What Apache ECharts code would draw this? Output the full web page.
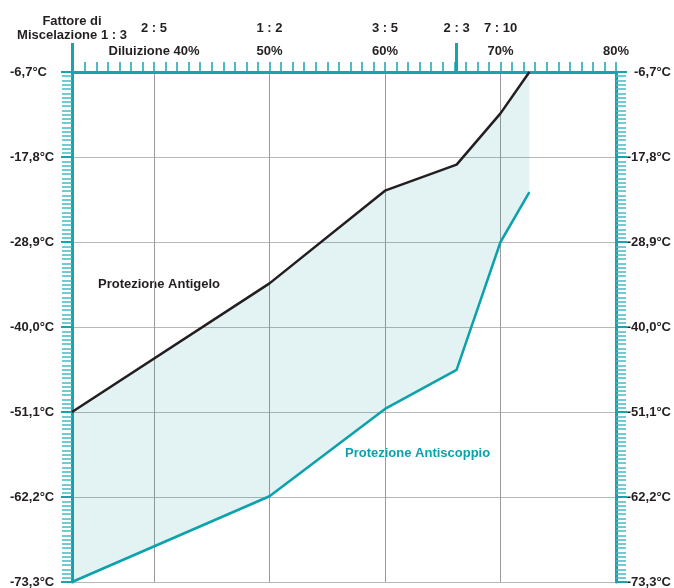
<!DOCTYPE html>
<html>
<head>
<meta charset="utf-8">
<script src="https://cdn.jsdelivr.net/npm/echarts@6/dist/echarts.min.js"></script>
<style>
html,body{margin:0;padding:0;background:#fff;}
#chart{width:674px;height:588px;}
</style>
</head>
<body>
<div id="chart"></div>
<script>
// Dilution (%) where each line bends
const dilution = [32.9, 50, 60, 66.2, 70, 72.5];
// Freeze protection (°C) - black line
const antigelo = [-51.1, -34.3, -22.2, -18.8, -12.1, -6.7];
// Burst protection (°C) - teal line
const antiscoppio = [-73.3, -62.1, -50.7, -45.6, -28.9, -22.4];

// Axis ticks / labels
const xMin = 32.9, xMax = 80;
const percentTicks = [40, 50, 60, 70, 80];
const ratioValues = [32.9, 40, 50, 60, 66.2, 70];
const ratioLabels = ['Fattore di\nMiscelazione 1 : 3', '2 : 5', '1 : 2', '3 : 5', '2 : 3', '7 : 10'];
const tallTicks = [32.9, 66.2];
const tempMin = -73.3, tempMax = -6.7, tempStep = 11.1;

const smallTicks = [];
for (let v = 33; v <= 80; v++) smallTicks.push(v);

const TEAL = '#17a4ae';
const TEAL_LIGHT = '#45b9c2';
const LINE_TEAL = '#0ba2ab';
const BLACK = '#231f20';
const FONT = 'Liberation Sans, Arial, sans-serif';

const chart = echarts.init(document.getElementById('chart'), null, {renderer: 'canvas'});

const yAxisCommon = {
  type: 'value', min: tempMin, max: tempMax, interval: tempStep,
  axisLine: {show: true, onZero: false, lineStyle: {color: TEAL, width: 3}},
  axisTick: {show: true, length: 11, lineStyle: {color: TEAL, width: 2}},
  minorTick: {show: true, splitNumber: 20, length: 10, lineStyle: {color: TEAL_LIGHT, width: 1.5}}
};
const yLabel = (margin, align) => ({
  color: BLACK, fontFamily: FONT, fontWeight: 'bold', fontSize: 13, margin: margin, align: align,
  formatter: v => v.toFixed(1).replace('.', ',') + '°C'
});

chart.setOption({
  animation: false,
  backgroundColor: '#fff',
  grid: {left: 72, right: 58, top: 72, bottom: 6, containLabel: false, outerBoundsMode: 'none'},
  xAxis: [
    {
      type: 'value', position: 'top', min: xMin, max: xMax,
      axisLine: {show: true, onZero: false, lineStyle: {color: TEAL, width: 3}},
      axisTick: {show: true, customValues: smallTicks, length: 10, lineStyle: {color: TEAL, width: 1.5}},
      axisLabel: {
        customValues: percentTicks, color: BLACK, fontFamily: FONT, fontWeight: 'bold', fontSize: 13,
        margin: 21, verticalAlign: 'middle',
        formatter: v => (v === 40 ? 'Diluizione ' : '') + v + '%'
      },
      splitLine: {show: false}
    },
    {
      type: 'value', position: 'top', min: xMin, max: xMax,
      axisLine: {show: false}, axisTick: {show: false}, axisLabel: {show: false},
      splitLine: {show: true, lineStyle: {color: '#9a9a9a', width: 1}}
    },
    {
      type: 'value', position: 'top', min: xMin, max: xMax,
      axisLine: {show: false},
      axisTick: {show: true, customValues: tallTicks, length: 29, lineStyle: {color: TEAL, width: 3}},
      axisLabel: {
        customValues: ratioValues, color: BLACK, fontFamily: FONT, fontWeight: 'bold', fontSize: 13,
        margin: 44, verticalAlign: 'middle', lineHeight: 14, align: 'center',
        formatter: v => {
          const i = ratioValues.findIndex(r => Math.abs(r - v) < 1e-6);
          return i >= 0 ? ratioLabels[i] : '';
        }
      },
      splitLine: {show: false}
    }
  ],
  yAxis: [
    Object.assign({}, yAxisCommon, {position: 'left', axisLabel: yLabel(62, 'left'), splitLine: {show: true, lineStyle: {color: '#b8b8b8', width: 1}}}),
    Object.assign({}, yAxisCommon, {position: 'right', axisLabel: yLabel(55, 'right'), splitLine: {show: false}})
  ],
  series: [
    {
      name: 'band', type: 'custom', silent: true, z: 1,
      data: [0],
      renderItem: (params, api) => {
        const pts = [];
        for (let i = 0; i < dilution.length; i++) pts.push(api.coord([dilution[i], antigelo[i]]));
        for (let i = dilution.length - 1; i >= 0; i--) pts.push(api.coord([dilution[i], antiscoppio[i]]));
        return {type: 'polygon', shape: {points: pts}, style: {fill: 'rgba(0,140,150,0.11)', stroke: null}};
      }
    },
    {
      name: 'Protezione Antigelo', type: 'line', data: dilution.map((x, i) => [x, antigelo[i]]),
      symbol: 'none', lineStyle: {color: BLACK, width: 2.5}, z: 3
    },
    {
      name: 'Protezione Antiscoppio', type: 'line', data: dilution.map((x, i) => [x, antiscoppio[i]]),
      symbol: 'none', lineStyle: {color: LINE_TEAL, width: 2.5}, z: 3
    }
  ],
  graphic: [
    {type: 'text', left: 98, top: 278, style: {text: 'Protezione Antigelo', fill: BLACK, font: 'bold 13px ' + FONT}},
    {type: 'text', left: 345, top: 447, style: {text: 'Protezione Antiscoppio', fill: LINE_TEAL, font: 'bold 13px ' + FONT}}
  ]
});
</script>
</body>
</html>
